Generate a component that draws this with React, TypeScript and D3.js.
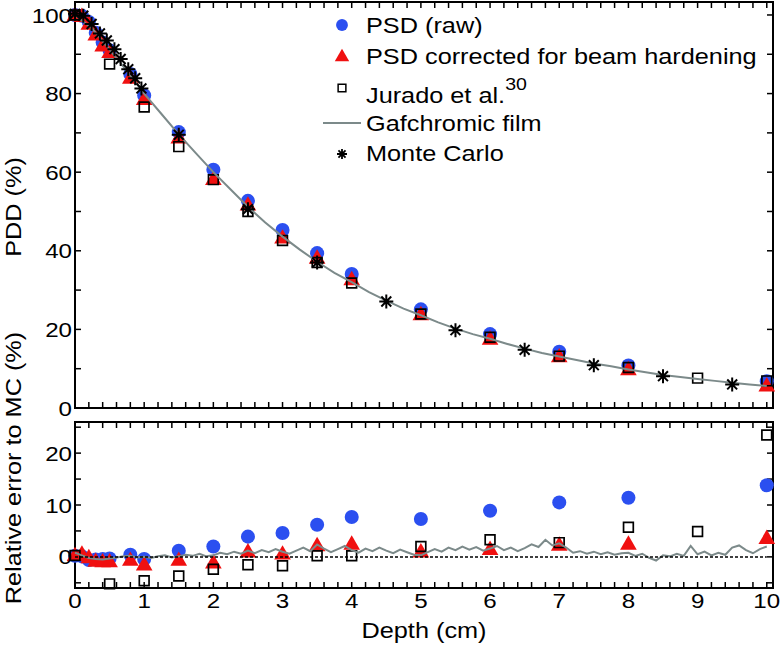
import { scaleLinear, line, range, symbol, symbolCircle, symbolTriangle, symbolSquare } from "d3";

// depth positions for PSD measurements (cm)
const psdDepth = [0, 0.1, 0.2, 0.3, 0.4, 0.5, 0.8, 1, 1.5, 2, 2.5, 3, 3.5, 4, 5, 6, 7, 8, 10];
const psdRaw = [100, 99.8, 98.2, 95.5, 93, 91, 85, 79.5, 70.2, 60.6, 52.7, 45.3, 39.4, 34.1, 25.1, 18.8, 14.3, 10.8, 6.8];
const psdCorr = [100, 99.7, 97.7, 95, 92.2, 90.5, 84, 78.6, 68.8, 58.2, 51.7, 43.3, 38.2, 32.7, 23.8, 17.6, 13.1, 9.8, 5.7];
const psdRawErr = [0.2, 0.1, -0.6, -0.5, -0.4, -0.3, 0.4, -0.4, 1.2, 2.0, 3.9, 4.6, 6.2, 7.7, 7.3, 8.9, 10.5, 11.4, 13.8];
const psdCorrErr = [0.3, 0.6, -0.1, -0.8, -0.9, -0.9, -0.6, -1.5, -0.6, -1.1, 1.0, 0.6, 2.2, 2.5, 1.0, 1.5, 2.3, 2.5, 3.6];

// Jurado et al.
const jurDepth = [0, 0.5, 1, 1.5, 2, 2.5, 3, 3.5, 4, 5, 6, 7, 8, 9, 10];
const jurPdd = [100, 87.5, 76.6, 66.5, 58.1, 50.0, 42.6, 37.0, 31.8, 23.9, 18.0, 13.2, 10.3, 7.6, 6.9];
const jurErr = [0.25, -5.2, -4.6, -3.7, -2.4, -1.5, -1.7, 0.2, 0.2, 2.0, 3.3, 2.75, 5.7, 4.9, 23.5];

// Monte Carlo
const mcDepth = [0, 0.12, 0.24, 0.36, 0.46, 0.57, 0.66, 0.77, 0.87, 0.96, 1.5, 2.5, 3.5, 4.5, 5.5, 6.5, 7.5, 8.5, 9.5];
const mcPdd = [100.3, 99.8, 97.7, 95.3, 93.5, 91.3, 88.8, 86.2, 83.9, 81.3, 69.5, 50.6, 37.0, 27.1, 19.8, 14.8, 10.9, 8.1, 6.0];

// Gafchromic film
const filmDepth = [0, 0.25, 0.5, 0.75, 1, 1.25, 1.5, 1.75, 2, 2.25, 2.5, 2.75, 3, 3.25, 3.5, 3.75, 4, 4.25, 4.5, 4.75,
  5, 5.25, 5.5, 5.75, 6, 6.25, 6.5, 6.75, 7, 7.25, 7.5, 7.75, 8, 8.25, 8.5, 8.75, 9, 9.25, 9.5, 9.75, 10];
const filmPdd = [100, 96.5, 91.2, 85.8, 80.0, 74.8, 69.6, 64.8, 60.0, 55.6, 51.2, 47.2, 43.6, 40.3, 37.2, 34.4, 32.0, 29.5, 27.3, 25.3,
  23.6, 21.8, 20.2, 18.8, 17.6, 16.3, 15.1, 14.0, 13.1, 12.2, 11.3, 10.6, 9.8, 9.1, 8.4, 7.9, 7.4, 6.9, 6.4, 6.0, 5.6];
const filmErrDepth = [0, 0.1, 0.2, 0.3, 0.4, 0.5, 0.6, 0.7, 0.8, 0.9, 1, 1.1, 1.2, 1.3, 1.4, 1.5, 1.6, 1.7, 1.8, 1.9,
  2, 2.1, 2.2, 2.3, 2.4, 2.5, 2.6, 2.7, 2.8, 2.9, 3, 3.1, 3.2, 3.3, 3.4, 3.5, 3.6, 3.7, 3.8, 3.9,
  4, 4.1, 4.2, 4.3, 4.4, 4.5, 4.6, 4.7, 4.8, 4.9, 5, 5.1, 5.2, 5.3, 5.4, 5.5, 5.6, 5.7, 5.8, 5.9,
  6, 6.1, 6.2, 6.3, 6.4, 6.5, 6.6, 6.7, 6.8, 6.9, 7, 7.1, 7.2, 7.3, 7.4, 7.5, 7.6, 7.7, 7.8, 7.9,
  8, 8.1, 8.2, 8.3, 8.4, 8.5, 8.6, 8.7, 8.8, 8.9, 9, 9.1, 9.2, 9.3, 9.4, 9.5, 9.6, 9.7, 9.8, 9.9, 10];
const filmErr = [0.8, 0.3, -0.2, -0.4, -0.5, -0.3, -0.1, 0.1, 0.2, -0.1, 0.0, -0.2, 0.1, 0.3, -0.1, 0.1, 0.4, 0.2, 0.6, 0.1,
  0.3, 0.8, 0.5, 1.0, 0.6, 1.2, 0.7, 1.3, 0.9, 1.5, 1.0, 0.6, 1.2, 1.8, 1.1, 2.4, 1.6, 0.9, 1.5, 2.1,
  1.3, 0.8, 1.6, 1.1, 1.8, 1.2, 0.7, 1.4, 0.9, 0.4, 0.3, 0.9, 1.5, 1.0, 1.8, 1.3, 2.0, 1.4, 1.9, 1.2,
  1.6, 2.1, 1.3, 1.8, 1.1, 1.7, 2.4, 1.9, 3.3, 2.2, 2.6, 1.8, 0.8, 1.1, 0.6, 1.0, 0.5, 0.9, 0.4, 0.7,
  0.8, 0.2, 0.6, -0.2, -0.7, 0.3, 0.1, 0.6, 0.2, 2.1, 0.5, 1.0, 0.3, 0.8, 0.4, 1.8, 2.2, 1.3, 0.7, 1.5, 2.0];

const xTickLabels = [0, 1, 2, 3, 4, 5, 6, 7, 8, 9, 10];
const topYTickLabels = [0, 20, 40, 60, 80, 100];
const bottomYTickLabels = [0, 10, 20];

const W = 780;
const H = 647;
const left = 75;
const right = 773;
const top1 = 2;
const bot1 = 408;
const top2 = 422;
const bot2 = 588;
const FONT = "'Liberation Sans', Arial, Helvetica, sans-serif";
const BLUE = "#2b4ff0";
const RED = "#f01010";
const FILM = "#7c8a8a";
const TL = 6;
const SX = 1.15; // text is a bit wider than plain Arial in the reference

const x = scaleLinear().domain([0, 10.09]).range([left, right]);
const y1 = scaleLinear().domain([0, 103.3]).range([bot1, top1]);
const y2 = scaleLinear().domain([-6, 26]).range([bot2, top2]);

const circlePath = symbol(symbolCircle, 155)()!;
const triPath = symbol(symbolTriangle, 120)()!;
const squarePath = symbol(symbolSquare, 95)()!;
const star = (s: number) => {
  const d = s * 0.707;
  return `M${-s},0L${s},0M0,${-s}L0,${s}M${-d},${-d}L${d},${d}M${-d},${d}L${d},${-d}`;
};

function Txt({ x, y, rot = 0, size, anchor = "start", dy, children }: any) {
  return (
    <g transform={`translate(${x},${y}) rotate(${rot}) scale(${SX},1)`}>
      <text fontSize={size} textAnchor={anchor} dy={dy}>{children}</text>
    </g>
  );
}

function Frame({ y, t, b, minorY }: any) {
  const xs = range(0, 10.001, 0.2);
  return (
    <g stroke="#000" strokeWidth={1.5}>
      <rect x={left} y={t} width={right - left} height={b - t} fill="none" strokeWidth={2} />
      {xs.map((v, i) => (
        <g key={"x" + i}>
          <line x1={x(v)} x2={x(v)} y1={b} y2={b - TL} />
          <line x1={x(v)} x2={x(v)} y1={t} y2={t + TL} />
        </g>
      ))}
      {minorY.map((v: number, i: number) => (
        <g key={"y" + i}>
          <line x1={left} x2={left + TL} y1={y(v)} y2={y(v)} />
          <line x1={right} x2={right - TL} y1={y(v)} y2={y(v)} />
        </g>
      ))}
    </g>
  );
}

export default function App() {
  const filmLine = line<number>().x((_, i) => x(filmDepth[i])).y((d) => y1(d));
  const filmErrLine = line<number>().x((_, i) => x(filmErrDepth[i])).y((d) => y2(d));

  const panel = (ys: (v: number) => number, raw: number[], corr: number[], jur: number[], filmPath: string, mc: boolean) => (
    <g>
      {raw.map((v, i) => (
        <path key={"b" + i} d={circlePath} transform={`translate(${x(psdDepth[i])},${ys(v)})`} fill={BLUE} />
      ))}
      {corr.map((v, i) => (
        <path key={"r" + i} d={triPath} transform={`translate(${x(psdDepth[i])},${ys(v) + 1})`} fill={RED} />
      ))}
      {jur.map((v, i) => (
        <path key={"j" + i} d={squarePath} transform={`translate(${x(jurDepth[i])},${ys(v)})`} fill="none" stroke="#000" strokeWidth={1.7} />
      ))}
      <path d={filmPath} fill="none" stroke={FILM} strokeWidth={2} />
      {mc &&
        mcPdd.map((v, i) => (
          <path key={"m" + i} d={star(7)} transform={`translate(${x(mcDepth[i])},${ys(v)})`} stroke="#000" strokeWidth={2} fill="none" />
        ))}
    </g>
  );

  const legendX = 342;
  const legendText = 366;

  return (
    <svg width={W} height={H} style={{ position: "absolute", left: 0, top: 0, background: "#fff" }} fontFamily={FONT}>
      <Frame y={y1} t={top1} b={bot1} minorY={range(0, 100.1, 10)} />
      <Frame y={y2} t={top2} b={bot2} minorY={range(-5, 25.1, 5)} />

      {panel(y1, psdRaw, psdCorr, jurPdd, filmLine(filmPdd)!, true)}
      {panel(y2, psdRawErr, psdCorrErr, jurErr, filmErrLine(filmErr)!, false)}
      <line x1={x(0)} x2={x(10)} y1={y2(0)} y2={y2(0)} stroke="#000" strokeWidth={1.5} strokeDasharray="3,2" />

      {/* tick labels */}
      <g fill="#000">
        {topYTickLabels.map((v) => (
          <Txt key={"ty" + v} x={left - 3} y={y1(v)} dy="0.36em" anchor="end" size={21}>{v}</Txt>
        ))}
        {bottomYTickLabels.map((v) => (
          <Txt key={"by" + v} x={left - 3} y={y2(v)} dy="0.36em" anchor="end" size={21}>{v}</Txt>
        ))}
        {xTickLabels.map((v) => (
          <Txt key={"xl" + v} x={x(v)} y={608} anchor="middle" size={21}>{v}</Txt>
        ))}
      </g>

      {/* axis titles */}
      <g fill="#000">
        <Txt x={424} y={638} anchor="middle" size={22}>Depth (cm)</Txt>
        <Txt x={21} y={207} rot={-90} anchor="middle" size={22}>PDD (%)</Txt>
        <Txt x={21} y={468} rot={-90} anchor="middle" size={22}>Relative error to MC (%)</Txt>
      </g>

      {/* legend */}
      <g fill="#000">
        <path d={symbol(symbolCircle, 110)()!} transform={`translate(${legendX},25)`} fill={BLUE} />
        <Txt x={legendText} y={25} dy="0.36em" size={22}>PSD (raw)</Txt>
        <path d={symbol(symbolTriangle, 90)()!} transform={`translate(${legendX},57)`} fill={RED} />
        <Txt x={legendText} y={56} dy="0.36em" size={22}>PSD corrected for beam hardening</Txt>
        <path d={symbol(symbolSquare, 60)()!} transform={`translate(${legendX},88)`} fill="none" stroke="#000" strokeWidth={1.5} />
        <Txt x={legendText} y={95} dy="0.36em" size={22}>Jurado et al.<tspan fontSize={17} dy="-0.75em">30</tspan></Txt>
        <line x1={323} x2={361} y1={123} y2={123} stroke={FILM} strokeWidth={2} />
        <Txt x={legendText} y={123} dy="0.36em" size={22}>Gafchromic film</Txt>
        <path d={star(5)} transform={`translate(${legendX},154)`} stroke="#000" strokeWidth={1.8} />
        <Txt x={legendText} y={153} dy="0.36em" size={22}>Monte Carlo</Txt>
      </g>
    </svg>
  );
}
